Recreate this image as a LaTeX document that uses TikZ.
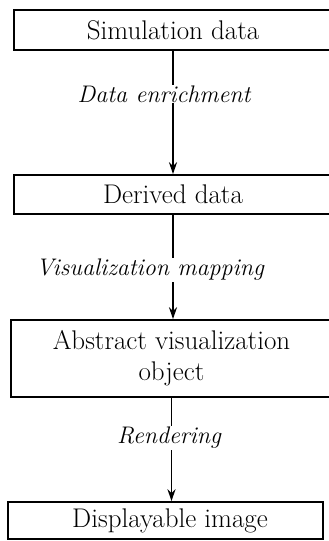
\documentclass[tikz,border=0pt]{standalone}
\usepackage{fontspec}
\usetikzlibrary{arrows.meta}
\begin{document}
\begin{tikzpicture}[x=1pt,y=-1pt,
  stage/.style={draw,line width=1.6pt,inner sep=0pt,
    font=\fontsize{27}{31}\selectfont,align=center},
  flow/.style={line width=1.6pt,-{Stealth[length=12pt,width=8pt,inset=4pt]}},
  act/.style={fill=white,inner sep=1pt,font=\fontsize{24}{27}\selectfont\itshape}]
\useasboundingbox (0,0) rectangle (329,541);
% processing stages
\node[stage,minimum width=318pt,minimum height=40pt] (sim) at (173,30) {Simulation data};
\node[stage,minimum width=318pt,minimum height=39pt] (der) at (173,194.5) {Derived data};
\node[stage,minimum width=321pt,minimum height=77pt] (avo) at (171.5,358.5) {Abstract visualization\\object};
\node[stage,minimum width=315pt,minimum height=37pt] (img) at (165.5,520.5) {\hspace*{9pt}Displayable image};
% transformations between stages
\draw[flow] (sim.south) -- (der.north);
\draw[flow] (der.south) -- (der.south |- avo.north);
\draw[flow] (avo.south) -- (avo.south |- img.north);
\node[act] (enr) at (164,94) {Data enrichment};
\node[act] (map) at (150,270) {Visualization mapping};
\node[act] (ren) at (169,438) {Rendering};
\end{tikzpicture}
\end{document}
